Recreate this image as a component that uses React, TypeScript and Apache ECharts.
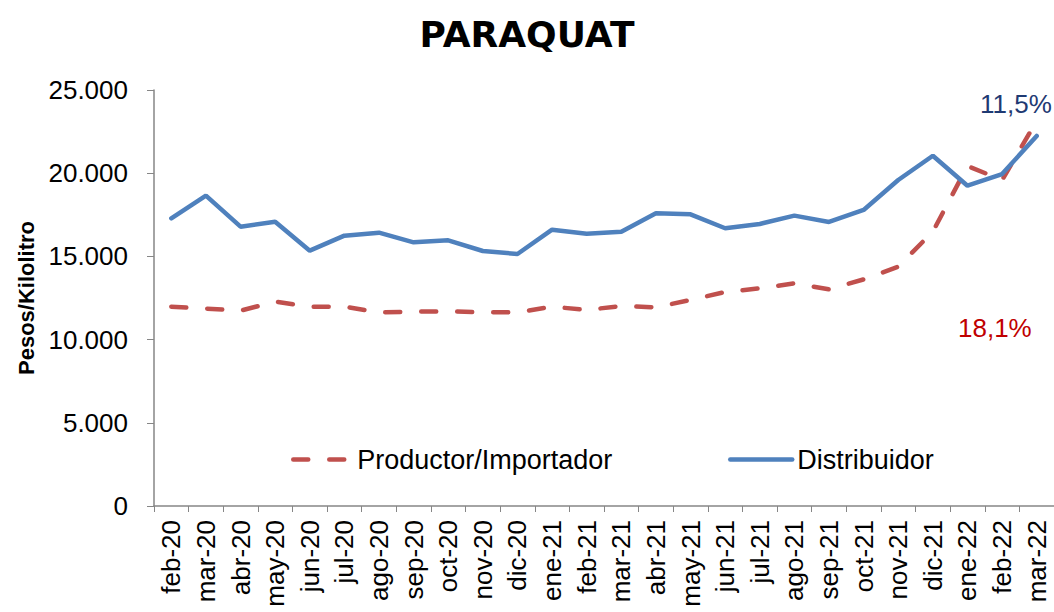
import React, { useEffect, useRef } from "react";
import * as echarts from "echarts";

const categories = [
  "feb-20", "mar-20", "abr-20", "may-20", "jun-20", "jul-20", "ago-20", "sep-20", "oct-20", "nov-20", "dic-20",
  "ene-21", "feb-21", "mar-21", "abr-21", "may-21", "jun-21", "jul-21", "ago-21", "sep-21", "oct-21", "nov-21", "dic-21",
  "ene-22", "feb-22", "mar-22",
];

const productor = [
  11980, 11860, 11740, 12280, 11980, 11980, 11640, 11680, 11700, 11640, 11640,
  11980, 11780, 12020, 11940, 12380, 12860, 13080, 13380, 13020, 13620, 14380, 16490,
  20430, 19590, 23140,
];

const distribuidor = [
  17290, 18650, 16785, 17085, 15345, 16245, 16425, 15845, 15965, 15325, 15145,
  16605, 16365, 16485, 17590, 17530, 16690, 16950, 17450, 17070, 17790, 19590, 21050,
  19250, 19950, 22240,
];

const yTicks = [0, 5000, 10000, 15000, 20000, 25000];

const FONT = "'Liberation Sans', Arial, sans-serif";

function fmt(v: number) {
  return v === 0 ? "0" : v.toLocaleString("de-DE");
}

export default function App() {
  const ref = useRef<HTMLDivElement>(null);
  useEffect(() => {
    if (!ref.current) return;
    const chart = echarts.init(ref.current, undefined, { renderer: "svg" });
    chart.setOption({
      animation: false,
      backgroundColor: "#ffffff",
      title: {
        text: "PARAQUAT",
        left: "center",
        top: 11,
        textStyle: { fontFamily: "'DejaVu Sans', sans-serif", fontWeight: "bold", fontSize: 36, color: "#000" },
      },
      grid: { left: 154, right: 0, top: 90, bottom: 106, containLabel: false },
      legend: [
        {
          data: ["Productor/Importador"],
          left: 291,
          top: 446,
          padding: 0,
          itemWidth: 56,
          itemHeight: 14,
          itemStyle: { opacity: 0 },
          lineStyle: { width: 4.5 },
          textStyle: { fontFamily: FONT, fontSize: 27, color: "#000", padding: [0, 0, 0, 3] },
        },
        {
          data: ["Distribuidor"],
          left: 728,
          top: 446,
          padding: 0,
          itemWidth: 62,
          itemHeight: 14,
          itemStyle: { opacity: 0 },
          lineStyle: { width: 4.5 },
          textStyle: { fontFamily: FONT, fontSize: 27, color: "#000" },
        },
      ],
      xAxis: {
        type: "category",
        data: categories,
        boundaryGap: true,
        axisLine: { lineStyle: { color: "#868686", width: 1.5 } },
        axisTick: { show: true, length: 6, lineStyle: { color: "#868686" } },
        axisLabel: { rotate: 90, fontFamily: FONT, fontSize: 26, color: "#000", margin: 14, interval: 0 },
      },
      yAxis: {
        type: "value",
        min: yTicks[0],
        max: yTicks[yTicks.length - 1],
        interval: 5000,
        name: "Pesos/Kilolitro",
        nameLocation: "middle",
        nameRotate: 90,
        nameGap: 114,
        nameTextStyle: { fontFamily: FONT, fontSize: 22, fontWeight: "bold", color: "#000" },
        axisLine: { show: true, lineStyle: { color: "#868686", width: 1.5 } },
        axisTick: { show: true, length: 7, lineStyle: { color: "#868686" } },
        splitLine: { show: false },
        axisLabel: { fontFamily: FONT, fontSize: 26, color: "#000", margin: 26, formatter: (v: number) => fmt(v) },
      },
      series: [
        {
          name: "Productor/Importador",
          type: "line",
          data: productor,
          symbol: "none",
          color: "#C0504D",
          lineStyle: { color: "#C0504D", width: 4.5, type: [15, 21], cap: "round" },
        },
        {
          name: "Distribuidor",
          type: "line",
          data: distribuidor,
          symbol: "none",
          color: "#4F81BD",
          lineStyle: { color: "#4F81BD", width: 4.5, cap: "round" },
        },
      ],
      graphic: [
        {
          type: "text",
          left: 980,
          top: 91,
          style: { text: "11,5%", font: `26px ${FONT}`, fill: "#1F3A73" },
        },
        {
          type: "text",
          left: 958,
          top: 315,
          style: { text: "18,1%", font: `26px ${FONT}`, fill: "#C00000" },
        },
      ],
    });
    return () => chart.dispose();
  }, []);
  return <div ref={ref} style={{ position: "fixed", left: 0, top: 0, width: 1054, height: 612 }} />;
}
